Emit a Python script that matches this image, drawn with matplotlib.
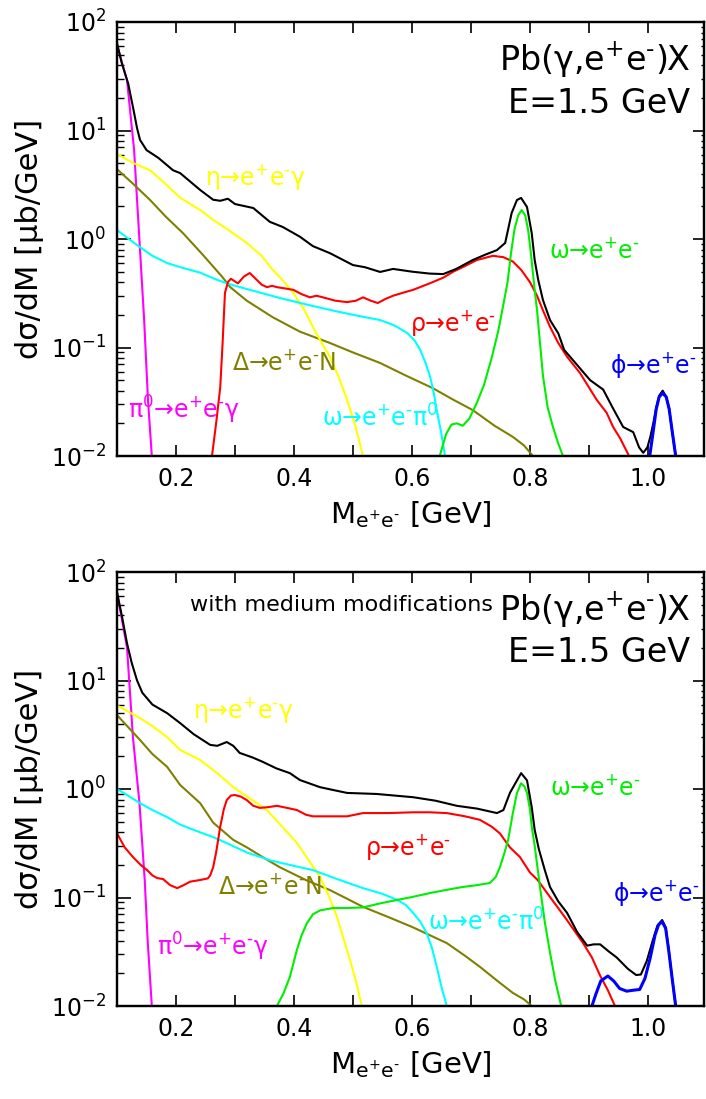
import matplotlib
matplotlib.use("Agg")
import matplotlib.pyplot as plt
from matplotlib.ticker import MultipleLocator, LogLocator, NullFormatter

plt.rcParams["font.family"] = ["DejaVu Sans"]
plt.rcParams["mathtext.fontset"] = "dejavusans"

# ---- vacuum spectral functions (upper panel) ----
tot_vac_m = [0.100, 0.108, 0.119, 0.128, 0.134, 0.139, 0.150, 0.170, 0.195, 0.207, 0.241, 0.263, 0.275,
             0.288, 0.300, 0.331, 0.359, 0.381, 0.410, 0.432, 0.461, 0.500, 0.520, 0.546, 0.568, 0.600,
             0.630, 0.653, 0.675, 0.703, 0.725, 0.744, 0.758, 0.769, 0.778, 0.785, 0.795, 0.803, 0.808,
             0.814, 0.822, 0.834, 0.848, 0.858, 0.877, 0.902, 0.924, 0.940, 0.958, 0.975, 0.985, 0.992,
             0.999, 1.004, 1.009, 1.014, 1.019, 1.025, 1.031, 1.036, 1.041, 1.047]
tot_vac = [64, 42, 27, 15.5, 10.5, 8.2, 6.6, 5.6, 4.3, 4.05, 2.83, 2.3, 2.25,
           2.35, 2.1, 1.93, 1.44, 1.29, 1.05, 0.86, 0.74, 0.575, 0.55, 0.497, 0.53, 0.50,
           0.48, 0.475, 0.53, 0.64, 0.72, 0.79, 0.92, 1.74, 2.29, 2.39, 1.97, 1.13, 0.64,
           0.42, 0.274, 0.179, 0.135, 0.095, 0.072, 0.050, 0.041, 0.028, 0.0185, 0.0166, 0.012, 0.0107,
           0.012, 0.015, 0.020, 0.028, 0.036, 0.040, 0.035, 0.027, 0.017, 0.010]

pi0_vac_m = [0.100, 0.117, 0.129, 0.138, 0.146, 0.1525, 0.159]
pi0_vac = [61, 29, 6.6, 0.98, 0.18, 0.033, 0.010]

eta_vac_m = [0.100, 0.128, 0.156, 0.180, 0.207, 0.241, 0.263, 0.290, 0.320, 0.345, 0.364, 0.382, 0.399,
             0.416, 0.432, 0.447, 0.461, 0.476, 0.490, 0.504, 0.517]
eta_vac = [6.07, 5.0, 4.3, 3.3, 2.4, 1.85, 1.5, 1.2, 0.92, 0.70, 0.52, 0.41, 0.318,
           0.23, 0.155, 0.11, 0.082, 0.053, 0.033, 0.019, 0.010]

delta_vac_m = [0.100, 0.128, 0.156, 0.183, 0.212, 0.245, 0.278, 0.292, 0.320, 0.364, 0.410, 0.461, 0.500,
               0.546, 0.590, 0.636, 0.670, 0.703, 0.740, 0.771, 0.790, 0.805]
delta_vac = [4.4, 3.2, 2.29, 1.6, 1.13, 0.72, 0.45, 0.36, 0.27, 0.19, 0.14, 0.110, 0.09,
             0.072, 0.055, 0.042, 0.033, 0.0265, 0.019, 0.015, 0.0125, 0.010]

omdal_vac_m = [0.100, 0.120, 0.139, 0.160, 0.185, 0.207, 0.241, 0.265, 0.286, 0.325, 0.376, 0.420, 0.461,
               0.500, 0.546, 0.570, 0.592, 0.605, 0.614, 0.623, 0.631, 0.637, 0.642, 0.649, 0.656]
omdal_vac = [1.21, 1.0, 0.84, 0.70, 0.60, 0.55, 0.49, 0.43, 0.39, 0.34, 0.286, 0.25, 0.222,
             0.20, 0.179, 0.16, 0.136, 0.115, 0.095, 0.072, 0.053, 0.038, 0.0265, 0.017, 0.010]

rho_vac_m = [0.261, 0.268, 0.275, 0.279, 0.283, 0.288, 0.293, 0.299, 0.305, 0.315, 0.325, 0.335, 0.345,
             0.354, 0.363, 0.371, 0.385, 0.399, 0.413, 0.427, 0.438, 0.449, 0.470, 0.490, 0.505, 0.517,
             0.530, 0.542, 0.555, 0.568, 0.585, 0.602, 0.630, 0.653, 0.670, 0.686, 0.710, 0.737, 0.755,
             0.771, 0.785, 0.800, 0.812, 0.822, 0.834, 0.848, 0.863, 0.885, 0.913, 0.930, 0.941, 0.953,
             0.968]
rho_vac = [0.010, 0.020, 0.043, 0.11, 0.32, 0.40, 0.43, 0.41, 0.39, 0.45, 0.486, 0.43, 0.38,
           0.36, 0.37, 0.36, 0.35, 0.34, 0.31, 0.29, 0.30, 0.29, 0.27, 0.262, 0.27, 0.29,
           0.27, 0.257, 0.28, 0.30, 0.32, 0.34, 0.39, 0.44, 0.50, 0.55, 0.64, 0.70, 0.68,
           0.62, 0.52, 0.40, 0.30, 0.22, 0.155, 0.11, 0.082, 0.058, 0.033, 0.025, 0.0185, 0.0145,
           0.010]

omega_vac_m = [0.647, 0.658, 0.667, 0.676, 0.686, 0.697, 0.710, 0.722, 0.735, 0.746, 0.755, 0.762, 0.768,
               0.774, 0.780, 0.786, 0.792, 0.797, 0.802, 0.807, 0.812, 0.817, 0.822, 0.830, 0.839, 0.848,
               0.856]
omega_vac = [0.010, 0.016, 0.0195, 0.020, 0.019, 0.022, 0.031, 0.045, 0.080, 0.14, 0.25, 0.40, 0.75,
             1.25, 1.65, 1.85, 1.65, 1.2, 0.70, 0.38, 0.22, 0.11, 0.055, 0.028, 0.0185, 0.013,
             0.010]

phi_vac_m = [1.003, 1.009, 1.014, 1.019, 1.025, 1.031, 1.036, 1.041, 1.047]
phi_vac = [0.010, 0.017, 0.027, 0.035, 0.038, 0.035, 0.027, 0.017, 0.010]

# ---- with medium modifications (lower panel) ----
tot_med_m = [0.100, 0.108, 0.117, 0.125, 0.134, 0.143, 0.160, 0.185, 0.207, 0.230, 0.258, 0.270, 0.286,
             0.297, 0.308, 0.330, 0.347, 0.370, 0.393, 0.410, 0.444, 0.466, 0.490, 0.540, 0.602, 0.640,
             0.676, 0.710, 0.744, 0.755, 0.766, 0.778, 0.785, 0.795, 0.803, 0.808, 0.815, 0.825, 0.834,
             0.848, 0.863, 0.880, 0.897, 0.908, 0.919, 0.933, 0.947, 0.966, 0.980, 0.988, 0.998, 1.008,
             1.016, 1.024, 1.030, 1.035, 1.041, 1.047]
tot_med = [65, 40, 22, 14.5, 10, 7.7, 6.0, 5.0, 4.05, 3.2, 2.55, 2.5, 2.71,
           2.5, 2.15, 1.95, 1.78, 1.55, 1.40, 1.21, 1.04, 0.98, 0.92, 0.90, 0.84, 0.78,
           0.70, 0.66, 0.60, 0.64, 0.92, 1.2, 1.40, 1.2, 0.68, 0.42, 0.28, 0.18, 0.125,
           0.092, 0.072, 0.048, 0.036, 0.037, 0.037, 0.032, 0.028, 0.022, 0.0193, 0.0195, 0.026, 0.040,
           0.055, 0.062, 0.053, 0.034, 0.018, 0.010]

pi0_med_m = [0.100, 0.117, 0.127, 0.138, 0.147, 0.152, 0.159]
pi0_med = [65, 20, 3.0, 0.75, 0.145, 0.04, 0.010]

eta_med_m = [0.100, 0.139, 0.160, 0.185, 0.207, 0.241, 0.270, 0.297, 0.325, 0.354, 0.380, 0.405, 0.425,
             0.444, 0.460, 0.473, 0.485, 0.495, 0.505, 0.515]
eta_med = [5.9, 4.5, 3.8, 3.0, 2.29, 1.85, 1.4, 1.04, 0.82, 0.64, 0.45, 0.318, 0.22,
           0.155, 0.10, 0.066, 0.040, 0.0265, 0.017, 0.010]

delta_med_m = [0.100, 0.139, 0.160, 0.185, 0.207, 0.241, 0.263, 0.297, 0.320, 0.350, 0.376, 0.420, 0.461,
               0.517, 0.560, 0.602, 0.659, 0.690, 0.715, 0.745, 0.771, 0.790, 0.803]
delta_med = [4.8, 2.83, 2.1, 1.6, 1.09, 0.74, 0.49, 0.34, 0.29, 0.23, 0.19, 0.145, 0.117,
             0.082, 0.066, 0.053, 0.038, 0.029, 0.023, 0.017, 0.0132, 0.0115, 0.010]

omdal_med_m = [0.100, 0.120, 0.139, 0.160, 0.185, 0.207, 0.235, 0.263, 0.290, 0.320, 0.360, 0.410, 0.432,
               0.470, 0.517, 0.550, 0.575, 0.590, 0.602, 0.614, 0.625, 0.634, 0.642, 0.650, 0.659]
omdal_med = [1.0, 0.86, 0.74, 0.64, 0.55, 0.47, 0.41, 0.36, 0.31, 0.26, 0.22, 0.19, 0.179,
             0.15, 0.122, 0.108, 0.095, 0.085, 0.072, 0.060, 0.047, 0.034, 0.023, 0.015, 0.010]

rho_med_m = [0.100, 0.113, 0.127, 0.140, 0.151, 0.160, 0.168, 0.178, 0.190, 0.202, 0.213, 0.224, 0.241,
             0.254, 0.258, 0.263, 0.268, 0.275, 0.281, 0.286, 0.293, 0.300, 0.310, 0.320, 0.331, 0.342,
             0.356, 0.371, 0.388, 0.405, 0.420, 0.432, 0.460, 0.490, 0.517, 0.560, 0.602, 0.630, 0.659,
             0.690, 0.715, 0.735, 0.749, 0.766, 0.783, 0.800, 0.813, 0.834, 0.860, 0.890, 0.905, 0.919,
             0.932, 0.944]
rho_med = [0.39, 0.29, 0.236, 0.20, 0.179, 0.160, 0.151, 0.148, 0.13, 0.122, 0.13, 0.14, 0.145,
           0.15, 0.16, 0.19, 0.26, 0.45, 0.65, 0.79, 0.87, 0.88, 0.85, 0.79, 0.70, 0.67,
           0.68, 0.70, 0.67, 0.64, 0.58, 0.56, 0.56, 0.56, 0.60, 0.60, 0.61, 0.61, 0.60,
           0.56, 0.52, 0.45, 0.39, 0.29, 0.236, 0.17, 0.145, 0.101, 0.065, 0.038, 0.028, 0.019,
           0.014, 0.010]

omega_med_m = [0.371, 0.382, 0.393, 0.405, 0.413, 0.422, 0.432, 0.444, 0.466, 0.490, 0.517, 0.545, 0.575,
               0.600, 0.631, 0.660, 0.686, 0.710, 0.732, 0.742, 0.749, 0.756, 0.763, 0.771, 0.778, 0.785,
               0.791, 0.795, 0.800, 0.803, 0.808, 0.817, 0.825, 0.834, 0.843, 0.853]
omega_med = [0.010, 0.013, 0.0185, 0.033, 0.045, 0.058, 0.070, 0.076, 0.080, 0.080, 0.081, 0.088, 0.095,
             0.101, 0.110, 0.118, 0.125, 0.130, 0.136, 0.155, 0.19, 0.25, 0.34, 0.60, 0.92, 1.13,
             1.05, 0.92, 0.65, 0.45, 0.30, 0.125, 0.06, 0.031, 0.017, 0.010]

phi_med_m = [0.905, 0.912, 0.920, 0.932, 0.942, 0.952, 0.964, 0.976, 0.986, 0.995, 1.004, 1.012, 1.018,
             1.024, 1.030, 1.035, 1.041, 1.047]
phi_med = [0.010, 0.013, 0.017, 0.0189, 0.017, 0.0145, 0.0137, 0.014, 0.0142, 0.018, 0.028, 0.045, 0.056,
           0.060, 0.052, 0.033, 0.018, 0.010]

LABEL_FS = 17
# superscript charges use a plain hyphen rather than the math minus
EE = "e$^{+}$e$^{\u2010}$"


def draw_panel(ax, curves, labels, medium):
    for m, v, col, lw in curves:
        ax.plot(m, v, color=col, lw=lw, solid_joinstyle="round")
    ax.set_yscale("log")
    ax.set_xlim(0.1, 1.095)
    ax.set_ylim(1e-2, 1e2)
    ax.xaxis.set_major_locator(MultipleLocator(0.2))
    ax.xaxis.set_minor_locator(MultipleLocator(0.1))
    ax.yaxis.set_major_locator(LogLocator(base=10))
    ax.yaxis.set_minor_locator(LogLocator(base=10, subs=range(2, 10)))
    ax.yaxis.set_minor_formatter(NullFormatter())
    ax.tick_params(which="both", direction="in", top=True, right=False, width=1.2,
                   labelsize=17, pad=8)
    ax.tick_params(axis="y", which="major", length=10)
    ax.tick_params(axis="y", which="minor", length=5, width=1)
    ax.tick_params(axis="x", which="both", length=8)
    for sp in ax.spines.values():
        sp.set_linewidth(1.6)

    # right-hand axis: short dotted-looking minor ticks
    axr = ax.twinx()
    axr.set_yscale("log")
    axr.set_ylim(1e-2, 1e2)
    axr.yaxis.set_major_locator(LogLocator(base=10))
    axr.yaxis.set_minor_locator(LogLocator(base=10, subs=range(2, 10)))
    axr.tick_params(which="both", direction="in", labelright=False)
    axr.tick_params(which="major", length=8, width=1.2)
    axr.tick_params(which="minor", length=2, width=1)
    for sp in axr.spines.values():
        sp.set_linewidth(1.6)

    ax.set_xlabel("M$_{\\mathregular{e^{+}e^{\u2010}}}$ [GeV]", fontsize=21)
    ax.set_ylabel("dσ/dM [μb/GeV]", fontsize=22)
    ax.xaxis.set_label_coords(0.5, -0.1)
    ax.yaxis.set_label_coords(-0.125, 0.5)

    for x, y, s, col in labels:
        ax.text(x, y, s, color=col, fontsize=LABEL_FS, ha="left", va="center")

    y_pb = 44.7
    y_en = 18.3 if medium else 17.9
    ax.text(1.072, y_pb, "Pb(γ," + EE + ")X", fontsize=24, ha="right", va="center")
    ax.text(1.072, y_en, "E=1.5 GeV", fontsize=24, ha="right", va="center")
    if medium:
        ax.text(0.224, 49.6, "with medium modifications", fontsize=16, ha="left", va="center")


fig = plt.figure(figsize=(7.06, 10.99), dpi=100)
ax_top = fig.add_axes([117 / 706, 1 - 456 / 1099, 587 / 706, 434 / 1099])
ax_bot = fig.add_axes([117 / 706, 1 - 1006 / 1099, 587 / 706, 434 / 1099])

top_curves = [
    (pi0_vac_m, pi0_vac, "#ff00ff", 1.5),
    (delta_vac_m, delta_vac, "#808000", 1.5),
    (eta_vac_m, eta_vac, "#ffff00", 1.5),
    (omdal_vac_m, omdal_vac, "#00ffff", 1.5),
    (rho_vac_m, rho_vac, "#ff0000", 1.5),
    (omega_vac_m, omega_vac, "#00ee00", 1.5),
    (tot_vac_m, tot_vac, "black", 1.5),
    (phi_vac_m, phi_vac, "#0000ff", 2.2),
]
top_labels = [
    (0.249, 3.7, "η→" + EE + "γ", "#ffff00"),
    (0.832, 0.79, "ω→" + EE, "#00ee00"),
    (0.597, 0.168, "ρ→" + EE, "#ff0000"),
    (0.295, 0.073, "Δ→" + EE + "N", "#808000"),
    (0.119, 0.0265, "π$^{0}$→" + EE + "γ", "#ff00ff"),
    (0.447, 0.0224, "ω→" + EE + "π$^{0}$", "#00ffff"),
    (0.936, 0.069, "ϕ→" + EE, "#0000ff"),
]

bot_curves = [
    (pi0_med_m, pi0_med, "#ff00ff", 1.5),
    (delta_med_m, delta_med, "#808000", 1.5),
    (eta_med_m, eta_med, "#ffff00", 1.5),
    (omdal_med_m, omdal_med, "#00ffff", 1.5),
    (rho_med_m, rho_med, "#ff0000", 1.5),
    (omega_med_m, omega_med, "#00ee00", 1.5),
    (tot_med_m, tot_med, "black", 1.5),
    (phi_med_m, phi_med, "#0000ff", 2.2),
]
bot_labels = [
    (0.229, 5.3, "η→" + EE + "γ", "#ffff00"),
    (0.834, 1.04, "ω→" + EE, "#00ee00"),
    (0.520, 0.29, "ρ→" + EE, "#ff0000"),
    (0.271, 0.125, "Δ→" + EE + "N", "#808000"),
    (0.168, 0.035, "π$^{0}$→" + EE + "γ", "#ff00ff"),
    (0.627, 0.059, "ω→" + EE + "π$^{0}$", "#00ffff"),
    (0.941, 0.11, "ϕ→" + EE, "#0000ff"),
]

draw_panel(ax_top, top_curves, top_labels, medium=False)
draw_panel(ax_bot, bot_curves, bot_labels, medium=True)

fig.savefig("out.png", dpi=100)
